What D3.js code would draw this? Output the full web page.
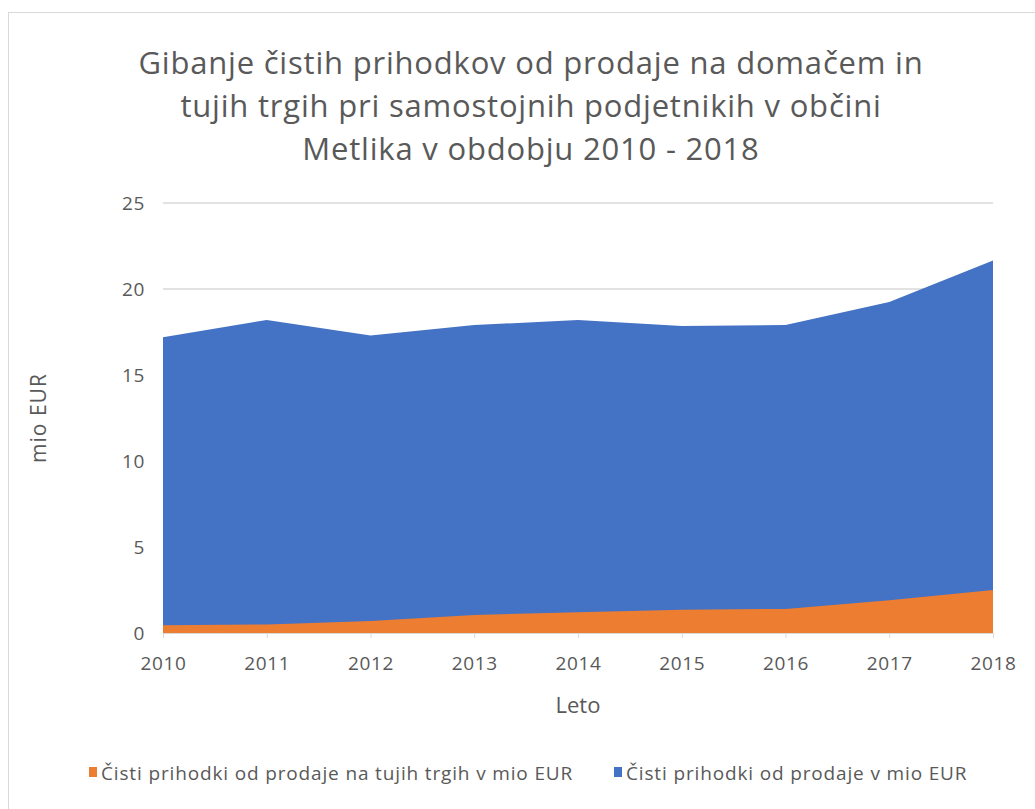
<!DOCTYPE html>
<html>
<head>
<meta charset="utf-8">
<script src="https://cdn.jsdelivr.net/npm/d3@7"></script>
<style>
  body { margin: 0; background: #fff; }
  svg { display: block; font-family: "Open Sans", Lato, sans-serif; }
</style>
</head>
<body>
<div id="chart"></div>
<script>
const years = [2010, 2011, 2012, 2013, 2014, 2015, 2016, 2017, 2018];
const totalRevenue = [17.2, 18.2, 17.3, 17.9, 18.2, 17.85, 17.9, 19.25, 21.65];
const foreignRevenue = [0.45, 0.5, 0.7, 1.05, 1.2, 1.35, 1.4, 1.9, 2.5];
const yTicks = [0, 5, 10, 15, 20, 25];
const titleLines = [
  "Gibanje čistih prihodkov od prodaje na domačem in",
  "tujih trgih pri samostojnih podjetnikih v občini",
  "Metlika v obdobju 2010 - 2018"
];
const seriesNames = [
  "Čisti prihodki od prodaje na tujih trgih v mio EUR",
  "Čisti prihodki od prodaje v mio EUR"
];

const W = 1035, H = 809;
const margin = { left: 163, right: 42, top: 203, bottom: 176 };
const textColor = "#595959";
const blue = "#4472C4", orange = "#ED7D31";

const svg = d3.select("#chart").append("svg")
  .attr("width", W)
  .attr("height", H);

// chart frame
svg.append("rect")
  .attr("x", 8.5).attr("y", 12.5)
  .attr("width", W + 10).attr("height", H + 10)
  .attr("fill", "#fff")
  .attr("stroke", "#d9d9d9");

const x = d3.scaleLinear()
  .domain(d3.extent(years))
  .range([margin.left, W - margin.right]);
const y = d3.scaleLinear()
  .domain([0, 25])
  .range([H - margin.bottom, margin.top]);

// title
const cx = 531;
svg.append("text")
  .attr("y", 74)
  .attr("text-anchor", "middle")
  .attr("fill", textColor)
  .attr("font-size", 31)
  .attr("letter-spacing", 0.8)
  .selectAll("tspan")
  .data(titleLines)
  .join("tspan")
  .attr("x", cx)
  .attr("dy", (d, i) => i ? 43 : 0)
  .text(d => d);

// gridlines
svg.append("g")
  .selectAll("line")
  .data(yTicks.filter(d => d > 0))
  .join("line")
  .attr("x1", x.range()[0]).attr("x2", x.range()[1])
  .attr("y1", d => y(d)).attr("y2", d => y(d))
  .attr("stroke", "#d9d9d9")
  .attr("stroke-width", 1.3);

const rows = years.map((yr, i) => ({ yr, total: totalRevenue[i], foreign: foreignRevenue[i] }));

const area = key => d3.area()
  .x(d => x(d.yr))
  .y0(y(0))
  .y1(d => y(d[key]));

svg.append("path")
  .datum(rows)
  .attr("d", area("total"))
  .attr("fill", blue);

svg.append("path")
  .datum(rows)
  .attr("d", area("foreign"))
  .attr("fill", orange);

// x axis
const xAxis = svg.append("g")
  .attr("transform", `translate(0,${y(0)})`)
  .call(d3.axisBottom(x).tickValues(years).tickFormat(d3.format("d")).tickSize(5).tickPadding(19));
xAxis.select(".domain").attr("stroke", "#d9d9d9");
xAxis.selectAll(".tick line").attr("stroke", "#d9d9d9");
xAxis.selectAll("text")
  .attr("fill", textColor)
  .attr("font-size", 19)
  .attr("letter-spacing", 0.6)
  .attr("font-family", "'Open Sans', sans-serif");

// y axis labels
const yAxis = svg.append("g")
  .attr("transform", `translate(${margin.left},0)`)
  .call(d3.axisLeft(y).tickValues(yTicks).tickSize(0).tickPadding(18));
yAxis.select(".domain").remove();
yAxis.selectAll("text")
  .attr("fill", textColor)
  .attr("font-size", 19)
  .attr("letter-spacing", 0.6)
  .attr("font-family", "'Open Sans', sans-serif");

// axis titles
svg.append("text")
  .attr("transform", `translate(40,${y(12.5)}) rotate(-90)`)
  .attr("text-anchor", "middle")
  .attr("dominant-baseline", "middle")
  .attr("fill", textColor)
  .attr("font-size", 21)
  .attr("letter-spacing", 1)
  .text("mio EUR");

svg.append("text")
  .attr("x", 578)
  .attr("y", 713)
  .attr("text-anchor", "middle")
  .attr("fill", textColor)
  .attr("font-size", 22)
  .text("Leto");

// legend
const legend = svg.append("g").attr("transform", "translate(0,780)");
const legendItems = [
  { name: seriesNames[0], color: orange, x: 89 },
  { name: seriesNames[1], color: blue, x: 614 }
];
const li = legend.selectAll("g")
  .data(legendItems)
  .join("g")
  .attr("transform", d => `translate(${d.x},0)`);
li.append("rect")
  .attr("x", 0).attr("y", -13)
  .attr("width", 8).attr("height", 10)
  .attr("fill", d => d.color);
li.append("text")
  .attr("x", 12)
  .attr("y", 0)
  .attr("fill", textColor)
  .attr("font-size", 19)
  .attr("letter-spacing", 0.85)
  .text(d => d.name);
</script>
</body>
</html>
